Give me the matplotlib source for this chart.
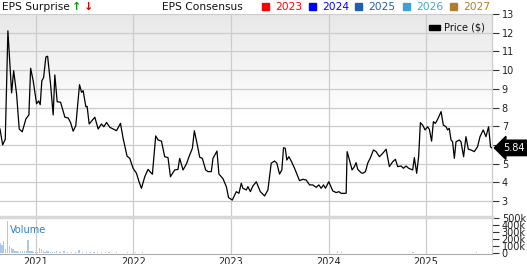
import numpy as np
import matplotlib
matplotlib.use("Agg")
import matplotlib.pyplot as plt
from matplotlib.colors import LinearSegmentedColormap
from matplotlib.patches import Rectangle
import matplotlib.transforms as mtransforms

plt.rcParams['font.family'] = ['DejaVu Sans']

# price history (decimal year, price in $)
price_t = [2020.632, 2020.659, 2020.686, 2020.713, 2020.751, 2020.772, 2020.802, 2020.829,
           2020.860, 2020.898, 2020.928, 2020.946, 2020.972, 2021.007, 2021.028, 2021.044,
           2021.061, 2021.079, 2021.102, 2021.120, 2021.150, 2021.177, 2021.194, 2021.218,
           2021.253, 2021.297, 2021.331, 2021.355, 2021.382, 2021.409, 2021.447, 2021.468,
           2021.484, 2021.512, 2021.525, 2021.546, 2021.604, 2021.638, 2021.672, 2021.696,
           2021.724, 2021.758, 2021.791, 2021.826, 2021.867, 2021.894, 2021.934, 2021.962,
           2021.996, 2022.031, 2022.057, 2022.082, 2022.116, 2022.149, 2022.194, 2022.228,
           2022.252, 2022.287, 2022.320, 2022.354, 2022.379, 2022.423, 2022.456, 2022.474,
           2022.508, 2022.543, 2022.576, 2022.604, 2022.624, 2022.651, 2022.679, 2022.706,
           2022.740, 2022.764, 2022.798, 2022.815, 2022.856, 2022.876, 2022.917, 2022.952,
           2022.975, 2023.013, 2023.054, 2023.081, 2023.105, 2023.122, 2023.157, 2023.173,
           2023.198, 2023.224, 2023.259, 2023.300, 2023.344, 2023.378, 2023.412, 2023.446,
           2023.470, 2023.497, 2023.521, 2023.538, 2023.556, 2023.572, 2023.593, 2023.617,
           2023.651, 2023.702, 2023.736, 2023.771, 2023.805, 2023.838, 2023.873, 2023.900,
           2023.924, 2023.948, 2023.968, 2024.002, 2024.043, 2024.078, 2024.105, 2024.129,
           2024.163, 2024.180, 2024.190, 2024.214, 2024.241, 2024.265, 2024.282, 2024.299,
           2024.334, 2024.350, 2024.378, 2024.401, 2024.426, 2024.460, 2024.487, 2024.521,
           2024.555, 2024.590, 2024.623, 2024.657, 2024.685, 2024.708, 2024.743, 2024.767,
           2024.794, 2024.821, 2024.862, 2024.879, 2024.903, 2024.923, 2024.941, 2024.964,
           2024.989, 2025.015, 2025.033, 2025.056, 2025.074, 2025.094, 2025.118, 2025.153,
           2025.176, 2025.204, 2025.220, 2025.237, 2025.255, 2025.271, 2025.289, 2025.306,
           2025.340, 2025.357, 2025.384, 2025.408, 2025.432, 2025.459, 2025.493, 2025.527,
           2025.552, 2025.585, 2025.613, 2025.640, 2025.660, 2025.672]
price = [6.85, 6.00, 6.30, 12.10, 8.78, 9.97, 8.72, 6.85,
         6.70, 7.40, 7.60, 10.10, 9.43, 8.20, 8.35, 8.15,
         9.43, 9.60, 10.70, 10.74, 9.26, 7.60, 9.74, 8.31,
         8.28, 7.48, 7.44, 7.20, 6.73, 7.03, 9.22, 8.81,
         8.90, 8.04, 8.06, 7.12, 7.48, 6.85, 7.12, 6.97,
         7.20, 6.94, 6.85, 6.76, 7.15, 6.35, 5.40, 5.28,
         4.75, 4.48, 4.03, 3.68, 4.30, 4.69, 4.43, 6.48,
         6.26, 6.20, 5.37, 5.32, 4.30, 4.66, 4.69, 5.28,
         4.66, 4.98, 5.46, 5.82, 6.76, 6.09, 5.34, 5.28,
         4.66, 4.57, 4.57, 5.28, 5.67, 4.44, 4.20, 3.77,
         3.18, 3.05, 3.50, 3.41, 3.95, 3.68, 3.59, 3.77,
         3.50, 3.80, 4.03, 3.50, 3.27, 3.59, 5.02, 5.14,
         5.02, 4.44, 4.66, 5.85, 5.82, 5.19, 5.37, 5.14,
         4.75, 4.09, 4.16, 4.12, 3.86, 3.86, 3.73, 3.86,
         3.68, 3.86, 3.68, 4.03, 3.54, 3.45, 3.50, 3.41,
         3.41, 3.41, 5.64, 5.19, 4.66, 4.84, 5.05, 4.69,
         4.51, 4.48, 4.57, 5.02, 5.28, 5.73, 5.64, 5.37,
         5.55, 5.77, 4.84, 5.10, 5.23, 4.84, 4.87, 4.75,
         4.87, 4.75, 4.66, 5.32, 4.48, 5.37, 7.19, 7.06,
         6.80, 6.97, 6.83, 6.20, 7.24, 7.15, 7.37, 7.78,
         7.06, 6.97, 6.80, 6.89, 6.26, 6.17, 5.28, 6.17,
         6.26, 6.17, 5.37, 6.44, 5.77, 5.73, 5.64, 5.90,
         6.44, 6.80, 6.44, 6.97, 5.90, 5.84]
last_price = 5.84

# volume (shares): weekly at the start, then every two weeks
vol_weekly = [150e3, 115e3, 170e3, 65e3, 460e3, 105e3, 75e3, 55e3, 40e3, 30e3,
              25e3, 30e3, 28e3, 35e3, 30e3, 190e3, 40e3, 28e3, 25e3, 22e3,
              25e3, 80e3, 55e3, 30e3, 25e3, 28e3, 35e3, 25e3, 22e3, 20e3]
vol_biweekly = [30e3, 25e3, 28e3, 22e3, 20e3, 25e3, 45e3, 22e3, 18e3, 15e3,
                14e3, 15e3, 12e3, 14e3, 12e3, 11e3, 12e3, 10e3, 11e3, 12e3,
                10e3, 12e3, 9e3, 20e3, 11e3, 10e3, 9e3, 8e3, 9e3, 10e3,
                8e3, 9e3, 8e3, 7e3, 8e3, 9e3, 8e3, 7e3, 8e3, 9e3,
                8e3, 7e3, 6e3, 8e3, 7e3,
                7e3, 6e3, 8e3, 7e3, 6e3, 7e3, 8e3, 6e3, 7e3, 6e3,
                5e3, 6e3, 7e3, 6e3, 5e3, 6e3, 7e3, 6e3, 5e3, 6e3,
                5e3, 6e3, 7e3, 6e3, 5e3, 6e3,
                6e3, 5e3, 6e3, 7e3, 35e3, 12e3, 8e3, 7e3, 6e3, 7e3,
                6e3, 5e3, 6e3, 7e3, 6e3, 5e3, 6e3, 7e3, 6e3, 5e3,
                6e3, 7e3, 8e3, 6e3, 20e3, 9e3,
                8e3, 7e3, 9e3, 8e3, 7e3, 8e3, 6e3, 7e3, 8e3, 9e3,
                7e3, 8e3, 6e3, 9e3, 10e3, 18e3, 8e3]

years = [2021, 2022, 2023, 2024, 2025]
price_ticks = [3, 4, 5, 6, 7, 8, 9, 10, 11, 12, 13]
vol_ticks = [0, 100e3, 200e3, 300e3, 400e3, 500e3]
vol_labels = ["0", "100k", "200k", "300k", "400k", "500k"]

legend_years = ["2023", "2024", "2025", "2026", "2027"]
legend_colors = ["#ff0000", "#0000ff", "#1f5fae", "#3ea3d4", "#b07d2c"]

# time positions of the volume bars
vol_t = np.concatenate([2020.632 + np.arange(len(vol_weekly)) / 52.0,
                        2021.21 + np.arange(len(vol_biweekly)) * 2 / 52.0])
vol = np.array(vol_weekly + vol_biweekly)

W, H = 527, 264
fig = plt.figure(figsize=(W / 100, H / 100), dpi=100)
x0, x1 = 2020.632, 2025.675
grid_c = "#cccccc"
tick_c = "#333333"

# price panel
ax = fig.add_axes([0, 1 - 216 / H, 492 / W, (216 - 14) / H])
ax.set_xlim(x0, x1)
ax.set_ylim(13 - 202 / 18.7, 13)
grad = LinearSegmentedColormap.from_list("g", ["#ffffff", "#ffffff", "#e8e8e8"])
ax.imshow(np.linspace(0, 1, 256).reshape(-1, 1)[::-1], extent=[0, 1, 0, 1],
          transform=ax.transAxes, cmap=grad, aspect="auto", zorder=0)
for p in price_ticks:
    ax.axhline(p, color=grid_c, lw=0.9, zorder=1)
for yr in years:
    ax.axvline(yr, color=grid_c, lw=0.9, zorder=1)
ax.plot(price_t, price, color="black", lw=0.9, zorder=3)

ax.yaxis.tick_right()
ax.set_yticks(price_ticks)
ax.set_yticklabels([str(p) for p in price_ticks])
ax.tick_params(axis="y", length=5, width=0.8, color=tick_c, labelsize=7,
               labelcolor="#222222", pad=2)
ax.set_xticks([])
for s in ["top", "left", "bottom"]:
    ax.spines[s].set_visible(False)
ax.spines["right"].set_color(grid_c)
ax.spines["right"].set_linewidth(0.9)

# Price ($) legend
ax.add_patch(Rectangle((0.872, 0.923), 0.022, 0.022, transform=ax.transAxes,
                       color="black", zorder=4))
ax.text(0.902, 0.934, "Price ($)", transform=ax.transAxes, fontsize=7,
        va="center", ha="left", color="#111111", zorder=4)

# last price tag
trans = mtransforms.blended_transform_factory(ax.transAxes, ax.transData)
ax.text(1.022, last_price, f"{last_price:.2f}", transform=trans, fontsize=7,
        color="white", ha="left", va="center", clip_on=False, zorder=6,
        bbox=dict(boxstyle="larrow,pad=0.28", fc="black", ec="black"))

# volume panel
axv = fig.add_axes([0, 1 - 254 / H, 492 / W, (254 - 217) / H])
axv.set_xlim(x0, x1)
axv.set_ylim(-10e3, 520e3)
axv.bar(vol_t, vol, width=1.3 / 97.7, color="#a9c9e8", zorder=2)
for yr in years:
    axv.axvline(yr, color=grid_c, lw=0.9, zorder=1)
axv.axhline(520e3, color="#d8d8d8", lw=2.5, zorder=3, clip_on=False)
axv.text(2020.73, 340e3, "Volume", fontsize=7, color="#2f7fc1", va="center", ha="left")
axv.yaxis.tick_right()
axv.set_yticks(vol_ticks)
axv.set_yticklabels(vol_labels)
axv.tick_params(axis="y", length=5, width=0.8, color=tick_c, labelsize=7,
                labelcolor="#222222", pad=2)
axv.set_xticks(years)
axv.set_xticklabels([str(y) for y in years])
axv.tick_params(axis="x", length=0, labelsize=7, labelcolor="#222222", pad=2)
for s in ["top", "left"]:
    axv.spines[s].set_visible(False)
axv.spines["right"].set_color(grid_c)
axv.spines["bottom"].set_color("#aaaaaa")
axv.spines["bottom"].set_linewidth(0.8)

# header
ty = 1 - 6.5 / H
fig.text(2 / W, ty, "EPS Surprise", fontsize=7.7, va="center", ha="left", color="#111111")
fig.text(72 / W, ty, "\u2191", fontsize=8, va="center", ha="left", color="#0a9a0a",
         fontweight="bold")
fig.text(84 / W, ty, "\u2193", fontsize=8, va="center", ha="left", color="#e00000",
         fontweight="bold")
fig.text(162 / W, ty, "EPS Consensus", fontsize=7.7, va="center", ha="left", color="#111111")
sq_x = [262, 309, 355, 403, 450]
for sx, lbl, c in zip(sq_x, legend_years, legend_colors):
    fig.patches.append(Rectangle((sx / W, 1 - 10 / H), 7 / W, 7 / H,
                                 transform=fig.transFigure, color=c, figure=fig))
    fig.text((sx + 13) / W, ty, lbl, fontsize=7.7, va="center", ha="left", color=c)

fig.savefig("out.png", dpi=100)
